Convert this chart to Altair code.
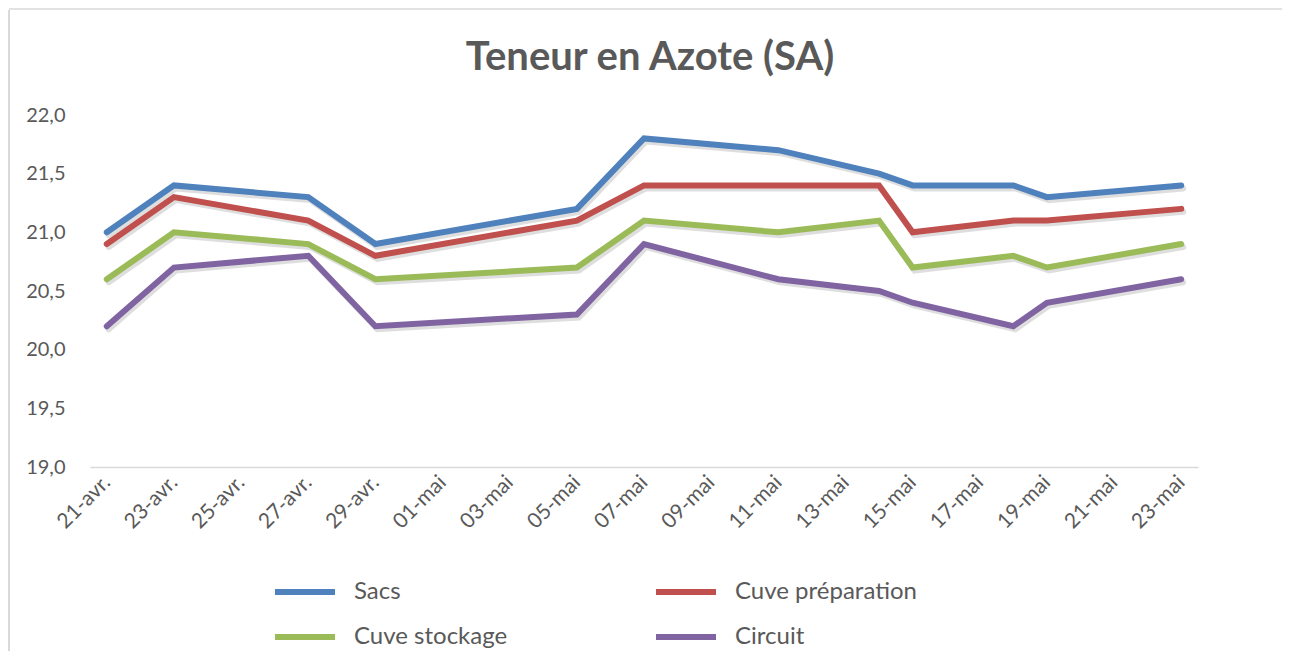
import altair as alt
import pandas as pd

# ---- data ----
dates = ["2021-04-21", "2021-04-23", "2021-04-27", "2021-04-29", "2021-05-05",
         "2021-05-07", "2021-05-11", "2021-05-14", "2021-05-15", "2021-05-18",
         "2021-05-19", "2021-05-23"]
series_names = ["Sacs", "Cuve préparation", "Cuve stockage", "Circuit"]
sacs = [21.0, 21.4, 21.3, 20.9, 21.2, 21.8, 21.7, 21.5, 21.4, 21.4, 21.3, 21.4]
cuve_preparation = [20.9, 21.3, 21.1, 20.8, 21.1, 21.4, 21.4, 21.4, 21.0, 21.1, 21.1, 21.2]
cuve_stockage = [20.6, 21.0, 20.9, 20.6, 20.7, 21.1, 21.0, 21.1, 20.7, 20.8, 20.7, 20.9]
circuit = [20.2, 20.7, 20.8, 20.2, 20.3, 20.9, 20.6, 20.5, 20.4, 20.2, 20.4, 20.6]
colors = ["#4F81BD", "#C0504D", "#9BBB59", "#8064A2"]
legend_order = ["Sacs", "Cuve stockage", "Cuve préparation", "Circuit"]
month_labels = {4: "avr.", 5: "mai"}
y_ticks = [19.0, 19.5, 20.0, 20.5, 21.0, 21.5, 22.0]
title_text = "Teneur en Azote (SA)"

rows = []
for name, vals in zip(series_names, [sacs, cuve_preparation, cuve_stockage, circuit]):
    for d, v in zip(dates, vals):
        rows.append({"date": d, "serie": name, "valeur": v})
df = pd.DataFrame(rows)

# tick positions every 2 days (21-avr. ... 23-mai)
tick_values = [alt.DateTime(year=2021, month=4, date=d, utc=True) for d in range(21, 31, 2)] + \
              [alt.DateTime(year=2021, month=5, date=d, utc=True) for d in range(1, 24, 2)]

label_expr = ("utcFormat(datum.value, '%d') + '-' + (utcmonth(datum.value) == 3 ? '"
              + month_labels[4] + "' : '" + month_labels[5] + "')")

x_enc = alt.X(
    "date:T",
    scale=alt.Scale(
        type="utc",
        domain=[alt.DateTime(year=2021, month=4, date=20, hours=12, utc=True),
                alt.DateTime(year=2021, month=5, date=23, hours=12, utc=True)],
        nice=False,
    ),
    axis=alt.Axis(
        values=tick_values, labelExpr=label_expr, title=None, grid=False,
        ticks=False, domain=True, domainColor="#D9D9D9", domainWidth=1.5,
        labelAngle=-45, labelAlign="right", labelBaseline="middle",
        labelFontSize=21, labelColor="#595959", labelFont="Lato",
        labelPadding=12, labelOverlap=False,
    ),
)
y_enc = alt.Y(
    "valeur:Q",
    scale=alt.Scale(domain=[19, 22], nice=False, zero=False),
    axis=alt.Axis(
        values=y_ticks, format=".1f", labelExpr="replace(datum.label, '.', ',')",
        title=None, grid=False, ticks=False, domain=False,
        labelFontSize=20, labelColor="#595959", labelFont="Lato", labelPadding=25,
    ),
)

# chart-area frame (decoration, like the spreadsheet chart border): left and top edges
one = pd.DataFrame({"k": [0]})
frame_left = alt.Chart(one).mark_rule(color="#D9D9D9", strokeWidth=2).encode(
    x=alt.value(-81), y=alt.value(-105), y2=alt.value(536))
frame_top = alt.Chart(one).mark_rule(color="#D9D9D9", strokeWidth=1.5).encode(
    x=alt.value(-81), x2=alt.value(1192), y=alt.value(-106))

shadow = alt.Chart(df).mark_line(
    strokeWidth=6, color="#000000", opacity=0.13, xOffset=2, yOffset=3,
    strokeCap="round", strokeJoin="miter",
).encode(x=x_enc, y=y_enc, detail="serie:N")

lines = alt.Chart(df).mark_line(
    strokeWidth=6, strokeCap="round", strokeJoin="miter",
).encode(
    x=x_enc, y=y_enc,
    color=alt.Color(
        "serie:N",
        scale=alt.Scale(domain=series_names, range=colors),
        legend=alt.Legend(
            title=None, orient="none", legendX=182, legendY=444, columns=2,
            values=legend_order,
            symbolType="stroke", symbolSize=3600, symbolStrokeWidth=6,
            labelFontSize=24, labelColor="#595959", labelFont="Lato",
            labelOffset=16, labelLimit=400, columnPadding=136, rowPadding=-25,
            padding=0,
        ),
    ),
)

chart = alt.layer(frame_left, frame_top, shadow, lines).properties(
    width=1108,
    height=352,
    title=alt.Title(
        title_text, fontSize=40, font="Lato", fontWeight="bold", color="#595959",
        anchor="middle", offset=-70, dx=6,
    ),
    autosize=alt.AutoSizeParams(type="none"),
    padding={"left": 82, "top": 107, "right": 85, "bottom": 186},
).configure(background="white").configure_view(strokeWidth=0)

chart.save("out.html", embed_options={"renderer": "svg", "actions": False})
